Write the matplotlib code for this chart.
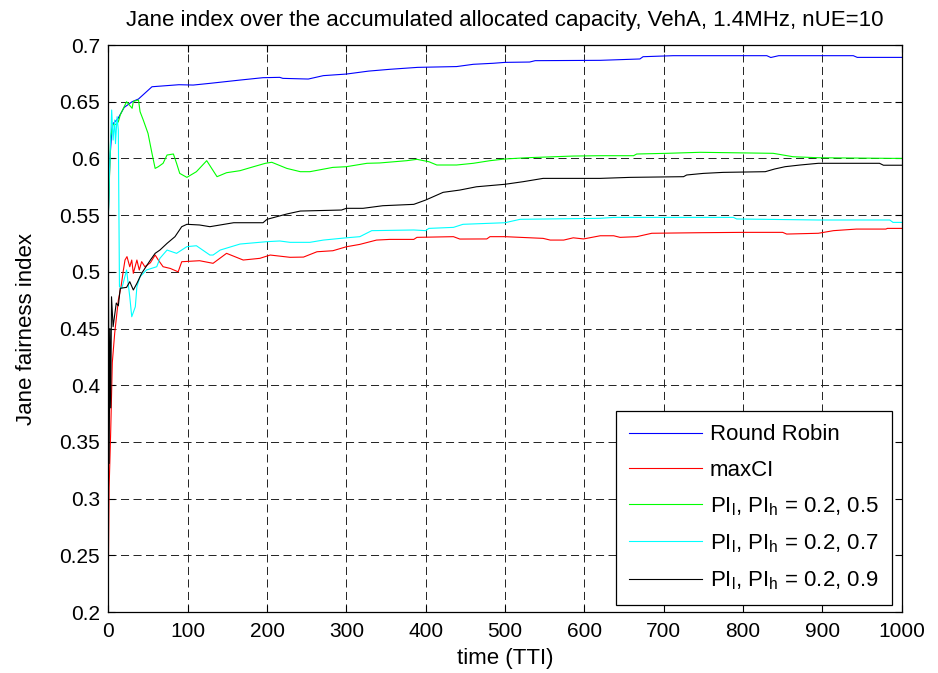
import numpy as np
import matplotlib
matplotlib.use("Agg")
import matplotlib.pyplot as plt

plt.rcParams['font.family'] = ['Liberation Sans', 'DejaVu Sans']
plt.rcParams['mathtext.fontset'] = 'custom'
plt.rcParams['mathtext.rm'] = 'Liberation Sans'
plt.rcParams['mathtext.it'] = 'Liberation Sans'
plt.rcParams['lines.scale_dashes'] = False

# valores (TTI, indice de Jain)
rr_x = [0, 2, 5, 12, 20, 30, 38, 55, 89, 107, 128, 166, 195, 216, 220, 252, 271, 300, 328, 355, 390,
        439, 460, 485, 500, 531, 538, 620, 670, 674, 712, 830, 835, 845, 893, 897, 939, 944, 1000]
rr_y = [0.55, 0.60, 0.63, 0.635, 0.645, 0.650, 0.6524, 0.6632, 0.665, 0.6647, 0.6662, 0.6691, 0.6712, 0.6715,
        0.6706, 0.670, 0.673, 0.6744, 0.677, 0.6786, 0.6803, 0.681, 0.683, 0.6839, 0.6847, 0.685, 0.6862,
        0.6865, 0.6877, 0.6897, 0.6906, 0.6906, 0.689, 0.6906, 0.6906, 0.6906, 0.6906, 0.6891, 0.6891]

maxci_x = [0, 1, 3, 5, 8, 12.6, 16, 19, 21, 23.5, 27, 29.5, 31.5, 36, 39, 42, 46, 53, 59, 63, 69, 78, 88,
           92.5, 115, 132, 149, 170, 191, 204, 229, 246, 263, 283, 300, 317, 338, 355, 385, 389, 435, 443,
           477, 481, 500, 548, 557, 574, 586, 599, 620, 637, 645, 666, 685, 746, 800, 850, 855, 895, 914,
           943, 980, 982, 1000]
maxci_y = [0.234, 0.31, 0.36, 0.42, 0.4458, 0.4751, 0.4869, 0.5016, 0.5104, 0.5134, 0.5045, 0.5104, 0.4987,
           0.5104, 0.5016, 0.509, 0.5045, 0.508, 0.5148, 0.5104, 0.5045, 0.503, 0.500, 0.5089, 0.5098,
           0.5075, 0.5163, 0.5104, 0.5119, 0.5148, 0.5128, 0.513, 0.5177, 0.5186, 0.5221, 0.5242, 0.528,
           0.5286, 0.5286, 0.5304, 0.531, 0.5289, 0.529, 0.531, 0.531, 0.5295, 0.528, 0.528, 0.530, 0.529,
           0.5318, 0.5318, 0.5304, 0.531, 0.534, 0.5345, 0.5348, 0.5348, 0.5333, 0.534, 0.5363, 0.5377,
           0.5377, 0.5383, 0.5383]

pi05_x = [0, 3, 6, 10, 12.6, 15, 19, 23, 30, 31.5, 38, 40, 44, 50, 55, 59, 63, 69, 74, 82, 86, 90, 99,
          111, 124, 137, 149, 166, 183, 198, 206, 225, 242, 254, 283, 300, 326, 342, 376, 389, 404, 414,
          439, 460, 481, 500, 527, 586, 620, 662, 666, 704, 746, 838, 863, 895, 1000]
pi05_y = [0.55, 0.62, 0.63, 0.63, 0.6324, 0.6383, 0.6442, 0.650, 0.6442, 0.6503, 0.6515, 0.6412, 0.6339,
          0.6221, 0.6045, 0.5912, 0.5927, 0.5957, 0.603, 0.6039, 0.5957, 0.5868, 0.5833, 0.5883, 0.598,
          0.5839, 0.5874, 0.5892, 0.5927, 0.5957, 0.5966, 0.5912, 0.5883, 0.5883, 0.5921, 0.5927, 0.5957,
          0.596, 0.598, 0.5992, 0.5971, 0.5942, 0.5942, 0.5957, 0.598, 0.5995, 0.6006, 0.6021, 0.6024,
          0.6024, 0.6039, 0.6045, 0.6054, 0.6045, 0.6015, 0.6006, 0.600]

pi07_x = [0, 1.3, 4.2, 6, 8, 9, 11, 12.6, 14, 17, 23, 27, 29.5, 34, 36, 40, 48, 61, 65, 74, 86, 99, 111,
          128, 132, 141, 166, 200, 216, 229, 254, 271, 300, 317, 332, 385, 400, 404, 435, 447, 500, 519,
          620, 637, 788, 792, 895, 985, 989, 1000]
pi07_y = [0.5457, 0.5868, 0.6427, 0.6162, 0.6339, 0.613, 0.6368, 0.6251, 0.4869, 0.4854, 0.5016, 0.478,
          0.4604, 0.4692, 0.4869, 0.4957, 0.5016, 0.5045, 0.5119, 0.5192, 0.5163, 0.5222, 0.523, 0.5148,
          0.5148, 0.5192, 0.5245, 0.5266, 0.5272, 0.526, 0.526, 0.528, 0.530, 0.531, 0.5363, 0.5369,
          0.5363, 0.5383, 0.5392, 0.5419, 0.5433, 0.5463, 0.5472, 0.548, 0.548, 0.5466, 0.5457, 0.5457,
          0.5436, 0.5436]

pi09_x = [0, 1, 2, 3, 4, 6, 10, 12.6, 15, 23, 27, 31.5, 36, 42, 53, 59, 65, 74, 84, 92.5, 99, 115, 128,
          158, 195, 200, 225, 242, 294, 300, 321, 346, 385, 400, 422, 443, 464, 500, 523, 548, 620, 658,
          725, 729, 750, 775, 828, 840, 853, 872, 895, 972, 977, 1000]
pi09_y = [0.54, 0.331, 0.45, 0.38, 0.478, 0.4516, 0.4725, 0.470, 0.4855, 0.4863, 0.4913, 0.484, 0.4898,
          0.4987, 0.5104, 0.5163, 0.5192, 0.5251, 0.531, 0.5398, 0.5419, 0.5413, 0.5398, 0.5433, 0.5433,
          0.5463, 0.551, 0.5536, 0.5545, 0.556, 0.556, 0.5583, 0.5595, 0.5633, 0.5701, 0.5721, 0.575,
          0.5772, 0.5795, 0.5824, 0.5824, 0.5833, 0.5839, 0.5854, 0.5868, 0.5877, 0.5883, 0.5907, 0.5927,
          0.5942, 0.5957, 0.5957, 0.594, 0.594]

series = [
    (rr_x, rr_y, '#0000ff', 'Round Robin'),
    (maxci_x, maxci_y, '#ff0000', 'maxCI'),
    (pi05_x, pi05_y, '#00ff00', r'PI$_\mathrm{l}$, PI$_\mathrm{h}$ = 0.2, 0.5'),
    (pi07_x, pi07_y, '#00ffff', r'PI$_\mathrm{l}$, PI$_\mathrm{h}$ = 0.2, 0.7'),
    (pi09_x, pi09_y, '#000000', r'PI$_\mathrm{l}$, PI$_\mathrm{h}$ = 0.2, 0.9'),
]

yticks = [0.2, 0.25, 0.3, 0.35, 0.4, 0.45, 0.5, 0.55, 0.6, 0.65, 0.7]
ytick_labels = ['0.2', '0.25', '0.3', '0.35', '0.4', '0.45', '0.5', '0.55', '0.6', '0.65', '0.7']
xticks = [0, 100, 200, 300, 400, 500, 600, 700, 800, 900, 1000]

fig = plt.figure(figsize=(9.38, 6.73), dpi=100)
ax = fig.add_axes([0.1155, 0.0906, 0.8458, 0.8425])

for x, y, c, lab in series:
    ax.plot(x, y, color=c, lw=0.8, label=lab)

ax.set_xlim(0, 1000)
ax.set_ylim(0.2, 0.7)
ax.set_xticks(xticks)
ax.set_xticklabels([str(t) for t in xticks])
ax.set_yticks(yticks)
ax.set_yticklabels(ytick_labels)
ax.tick_params(direction='in', length=5, width=0.8, top=True, right=True, labelsize=15)
ax.tick_params(axis='y', pad=6)
ax.tick_params(axis='x', pad=7)
ax.grid(True, color='#222222', linestyle=(0, (5.8, 3.2)), linewidth=0.7)
for s in ax.spines.values():
    s.set_linewidth(0.9)

ax.set_title("Jane index over the accumulated allocated capacity, VehA, 1.4MHz, nUE=10", fontsize=16, pad=14)
ax.set_xlabel("time (TTI)", fontsize=16, labelpad=5)
ax.set_ylabel("Jane fairness index", fontsize=16, labelpad=16)

leg = ax.legend(loc='lower right', bbox_to_anchor=(0.988, 0.012), fontsize=16, fancybox=False,
                edgecolor='black', framealpha=1, handlelength=3.3, borderpad=0.6, labelspacing=0.65,
                handletextpad=0.35, borderaxespad=0)
leg.get_frame().set_linewidth(0.9)

fig.savefig("out.png", dpi=100)
